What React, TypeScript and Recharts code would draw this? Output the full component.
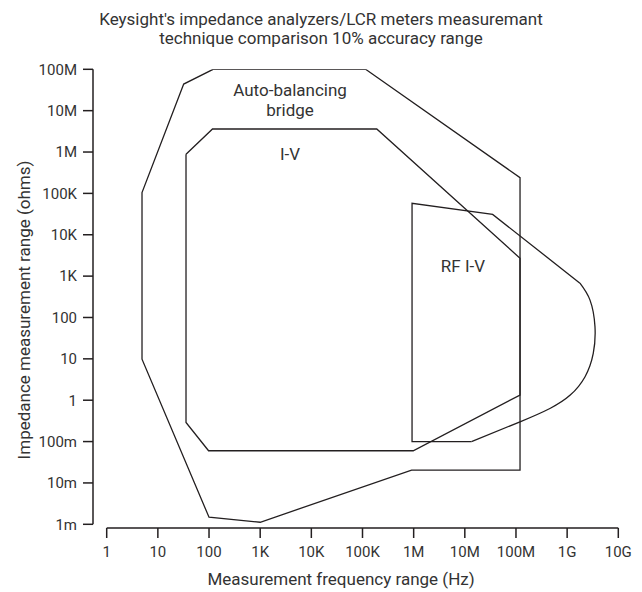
import { ScatterChart, Scatter, XAxis, YAxis, ReferenceDot, Label } from 'recharts'

const freqTicks = [1, 10, 100, 1e3, 1e4, 1e5, 1e6, 1e7, 1e8, 1e9, 1e10]
const freqTickLabels = ['1', '10', '100', '1K', '10K', '100K', '1M', '10M', '100M', '1G', '10G']
const ohmTicks = [1e-3, 1e-2, 0.1, 1, 10, 100, 1e3, 1e4, 1e5, 1e6, 1e7, 1e8]
const ohmTickLabels = ['1m', '10m', '100m', '1', '10', '100', '1K', '10K', '100K', '1M', '10M', '100M']

// outlines, closed (last point = first point)
const autoBalFreq = [120, 1.15e5, 1.2e8, 1.2e8, 9.1e5, 1000, 100, 4.9, 4.9, 32, 120]
const autoBalOhms = [1e8, 1e8, 2.4e5, 0.0204, 0.0204, 0.00112, 0.00148, 9.8, 1.05e5, 4.4e7, 1e8]

const ivFreq = [35.5, 117, 1.9e5, 1.2e8, 1.2e8, 9.8e5, 98, 35.5, 35.5]
const ivOhms = [8.8e5, 3.6e6, 3.6e6, 2700, 1.33, 0.06, 0.06, 0.29, 8.8e5]

const rfFreq = [1.35e7, 9.3e5, 9.3e5, 3.5e7, 1.78e9]
const rfOhms = [0.1, 0.1, 5.75e4, 3.1e4, 676]
// rounded high frequency edge of RF I-V
const rfCurveFreq = [1.78e9, 2.8e9, 3.5e9, 3.24e9, 2.24e9, 1.15e9, 4.7e8, 1.2e8, 1.35e7]
const rfCurveOhms = [676, 263, 60, 13.5, 3.7, 1.33, 0.64, 0.3, 0.1]

const regionLabels = ['Auto-balancing', 'bridge', 'I-V', 'RF I-V']
const labelFreq = [3840, 3840, 3840, 9.2e6]
const labelOhms = [3.2e7, 1.04e7, 9.06e5, 1775]

const INK = '#231f20'
const TEXT = '#333'
const FONT = 'Roboto, sans-serif'

const toPoints = (f: number[], o: number[]) => f.map((x, i) => ({ freq: x, ohms: o[i] }))

const pick = (ticks: number[], labels: string[]) => (v: number) => {
  const i = ticks.findIndex((t) => Math.abs(Math.log10(t) - Math.log10(v)) < 1e-6)
  return i < 0 ? '' : labels[i]
}

const noDot = () => <g />

const XTitle = () => (
  <text x={341} y={585} textAnchor="middle" fill={TEXT} fontSize={17} fontFamily={FONT}>
    Measurement frequency range (Hz)
  </text>
)

const YTitle = () => (
  <text
    x={24}
    y={310}
    transform="rotate(-90 24 310)"
    textAnchor="middle"
    dominantBaseline="central"
    fill={TEXT}
    fontSize={17}
    fontFamily={FONT}
  >
    Impedance measurement range (ohms)
  </text>
)

export default function App() {
  const line = { stroke: INK, strokeWidth: 1.3 }
  return (
    <div style={{ position: 'absolute', top: 0, left: 0, width: 642, height: 592, background: '#fff', fontFamily: FONT }}>
      <div
        style={{
          position: 'absolute', top: 9.7, left: 0, width: 642, textAlign: 'center',
          fontSize: 17, lineHeight: '19px', color: TEXT,
        }}
      >
        Keysight's impedance analyzers/LCR meters measuremant
        <br />
        technique comparison 10% accuracy range
      </div>
      <ScatterChart width={642} height={592} margin={{ top: 69.3, right: 23.7, bottom: 4, left: 0 }}>
        <XAxis
          type="number"
          dataKey="freq"
          scale="log"
          domain={[1, 1e10]}
          allowDataOverflow
          ticks={freqTicks}
          interval={0}
          tickFormatter={pick(freqTicks, freqTickLabels)}
          padding={{ left: 13.7, right: 0 }}
          height={60}
          tickSize={10}
          tickMargin={8}
          tick={{ fill: TEXT, fontSize: 15, fontFamily: FONT }}
          tickLine={{ stroke: INK, strokeWidth: 1.5 }}
          axisLine={{ stroke: INK, strokeWidth: 1.5, strokeDasharray: '0 13.7 1000' }}
        >
          <Label content={XTitle} />
        </XAxis>
        <YAxis
          type="number"
          dataKey="ohms"
          scale="log"
          domain={[1e-3, 1e8]}
          allowDataOverflow
          ticks={ohmTicks}
          interval={0}
          tickFormatter={pick(ohmTicks, ohmTickLabels)}
          padding={{ top: 0, bottom: 3.7 }}
          width={93}
          tickSize={10}
          tickMargin={6}
          tick={{ fill: TEXT, fontSize: 15, fontFamily: FONT }}
          tickLine={{ stroke: INK, strokeWidth: 1.5 }}
          axisLine={{ stroke: INK, strokeWidth: 1.5, strokeDasharray: '455 100' }}
        >
          <Label content={YTitle} />
        </YAxis>
        <Scatter data={toPoints(autoBalFreq, autoBalOhms)} line={line} lineJointType="linear" shape={noDot} isAnimationActive={false} />
        <Scatter data={toPoints(ivFreq, ivOhms)} line={line} lineJointType="linear" shape={noDot} isAnimationActive={false} />
        <Scatter data={toPoints(rfFreq, rfOhms)} line={line} lineJointType="linear" shape={noDot} isAnimationActive={false} />
        <Scatter data={toPoints(rfCurveFreq, rfCurveOhms)} line={line} lineJointType="natural" shape={noDot} isAnimationActive={false} />
        {regionLabels.map((t, i) => (
          <ReferenceDot
            key={t}
            x={labelFreq[i]}
            y={labelOhms[i]}
            r={0}
            stroke="none"
            fill="none"
            label={{ value: t, position: 'center', fill: TEXT, fontSize: 17, fontFamily: FONT }}
          />
        ))}
      </ScatterChart>
    </div>
  )
}
